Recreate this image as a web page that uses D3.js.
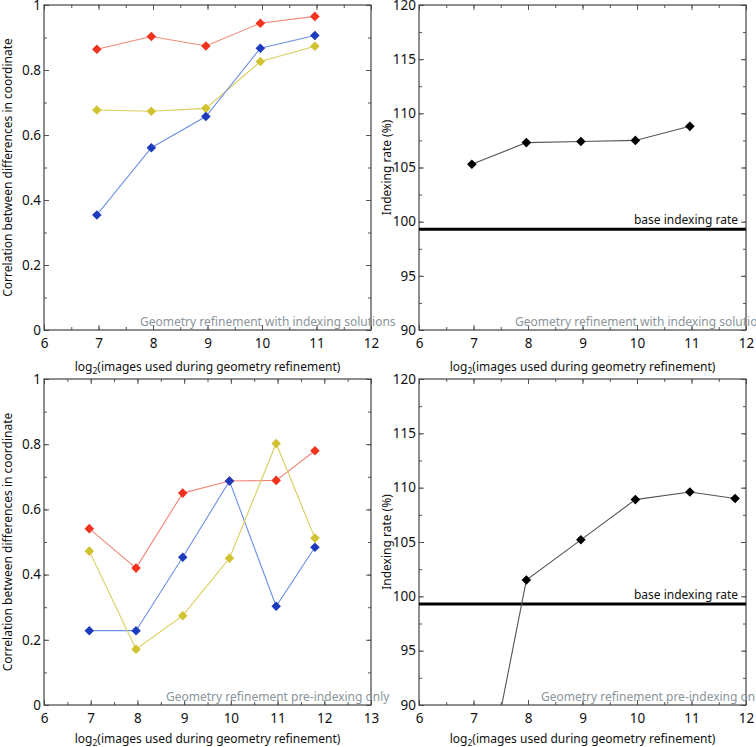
<!DOCTYPE html>
<html>
<head>
<meta charset="utf-8">
<script src="https://cdn.jsdelivr.net/npm/d3@7"></script>
<style>
  body { margin: 0; background: #fff; }
  svg { display: block; font-family: "Noto Sans", sans-serif; }
</style>
</head>
<body>
<svg width="756" height="747"></svg>
<script>
// x = log2(number of images)
const xTop = [6.97, 7.97, 8.97, 9.97, 10.97];
const xBottom = [6.97, 7.97, 8.97, 9.97, 10.97, 11.8];

// correlation, refinement with indexing solutions
const topRed = [0.864, 0.903, 0.874, 0.944, 0.965];
const topYellow = [0.677, 0.673, 0.682, 0.826, 0.873];
const topBlue = [0.354, 0.561, 0.657, 0.867, 0.906];
// indexing rate, refinement with indexing solutions
const topRate = [105.3, 107.3, 107.4, 107.5, 108.8];

// correlation, pre-indexing only
const botRed = [0.541, 0.420, 0.650, 0.687, 0.689, 0.780];
const botYellow = [0.472, 0.171, 0.274, 0.450, 0.802, 0.512];
const botBlue = [0.228, 0.228, 0.453, 0.687, 0.303, 0.484];
// indexing rate, pre-indexing only
const botRate = [76.0, 101.5, 105.2, 108.9, 109.6, 109.0];

const baseRate = 99.3;

const corrTicks = [0, 0.2, 0.4, 0.6, 0.8, 1];
const rateTicks = [90, 95, 100, 105, 110, 115, 120];

const xTitle = "images used during geometry refinement)";
const corrTitle = "Correlation between differences in coordinate";
const rateTitle = "Indexing rate (%)";
const noteTop = "Geometry refinement with indexing solutions";
const noteBottom = "Geometry refinement pre-indexing only";
const baseLabel = "base indexing rate";

const colors = {
  red: {line: "#f2877a", dot: "#f0321e"},
  yellow: {line: "#d9cd5c", dot: "#d1c232"},
  blue: {line: "#6d8fe4", dot: "#1c3cbd"},
  black: {line: "#555", dot: "#000"}
};

let svg = d3.select("svg");

function steps(a, b, step) {
  let n = Math.round((b - a) / step);
  return d3.range(n + 1).map(i => +(a + i * step).toFixed(4));
}

function createAxis(g, p) {
  let scX = d3.scaleLinear().domain(p.xDomain).range([0, p.width]);
  let scY = d3.scaleLinear().domain(p.yDomain).range([p.height, 0]);

  let xMajor = steps(p.xDomain[0], p.xDomain[1], 1);
  let xMinor = steps(p.xDomain[0], p.xDomain[1], 0.5);
  let yMinor = steps(p.yDomain[0], p.yDomain[1], p.yMinor);

  // minor ticks on all four sides
  const minor = [
    [d3.axisBottom(scX).tickValues(xMinor), `translate(0,${p.height})`],
    [d3.axisTop(scX).tickValues(xMinor), "translate(0,0)"],
    [d3.axisLeft(scY).tickValues(yMinor), "translate(0,0)"],
    [d3.axisRight(scY).tickValues(yMinor), `translate(${p.width},0)`]
  ];
  minor.forEach(([ax, tr]) => {
    g.append("g").attr("transform", tr)
      .call(ax.tickSize(-3).tickFormat(""))
      .call(s => s.select(".domain").remove());
  });

  // major ticks
  g.append("g").attr("transform", `translate(0,${p.height})`)
    .call(d3.axisBottom(scX).tickValues(xMajor).tickSize(-5).tickPadding(8).tickFormat(d3.format("d")))
    .call(s => s.select(".domain").remove());
  g.append("g")
    .call(d3.axisTop(scX).tickValues(xMajor).tickSize(-5).tickFormat(""))
    .call(s => s.select(".domain").remove());
  g.append("g")
    .call(d3.axisLeft(scY).tickValues(p.yTicks).tickSize(-5).tickPadding(3).tickFormat(d3.format("~g")))
    .call(s => s.select(".domain").remove());
  g.append("g").attr("transform", `translate(${p.width},0)`)
    .call(d3.axisRight(scY).tickValues(p.yTicks).tickSize(-5).tickFormat(""))
    .call(s => s.select(".domain").remove());

  g.selectAll(".tick line").attr("stroke", "#555");
  g.selectAll(".tick text").attr("font-size", 13.5).attr("fill", "#111")
    .attr("font-family", "Noto Sans, sans-serif");

  g.append("rect")
    .attr("width", p.width).attr("height", p.height)
    .attr("fill", "none").attr("stroke", "#444").attr("stroke-width", 1.2);

  // axis titles
  let xt = g.append("text")
    .attr("x", p.width / 2).attr("y", p.height + p.titleY)
    .attr("text-anchor", "middle").attr("font-size", 12).attr("fill", "#111");
  xt.append("tspan").text("log");
  xt.append("tspan").text("2").attr("font-size", 8.5).attr("dy", 3);
  xt.append("tspan").text("(" + xTitle).attr("dy", -3);

  g.append("text")
    .attr("transform", `translate(${p.titleX},${p.height / 2}) rotate(-90)`)
    .attr("text-anchor", "middle").attr("font-size", 12).attr("fill", "#111")
    .text(p.yTitle);

  return [scX, scY];
}

function createSeries(g, xs, ys, scX, scY, color) {
  let pts = xs.map((x, i) => [x, ys[i]]);
  g.append("path")
    .datum(pts)
    .attr("fill", "none")
    .attr("stroke", color.line)
    .attr("stroke-width", 1.1)
    .attr("d", d3.line().x(d => scX(d[0])).y(d => scY(d[1])));
  g.selectAll(null)
    .data(pts)
    .enter()
    .append("path")
    .attr("d", d3.symbol(d3.symbolSquare, 46)())
    .attr("transform", d => `translate(${scX(d[0])},${scY(d[1])}) rotate(45)`)
    .attr("fill", color.dot);
}

function drawPanel(p) {
  let g = svg.append("g").attr("transform", `translate(${p.left},${p.top})`);
  const [scX, scY] = createAxis(g, p);

  let clipId = "clip" + p.id;
  g.append("clipPath").attr("id", clipId)
    .append("rect").attr("width", p.width).attr("height", p.height);
  let plot = g.append("g").attr("clip-path", `url(#${clipId})`);

  if (p.base) {
    plot.append("line")
      .attr("x1", 0).attr("x2", p.width)
      .attr("y1", scY(baseRate)).attr("y2", scY(baseRate))
      .attr("stroke", "#000").attr("stroke-width", 3);
    g.append("text")
      .attr("x", p.width - 8).attr("y", scY(baseRate) - 5)
      .attr("text-anchor", "end").attr("font-size", 12).attr("fill", "#111")
      .text(baseLabel);
  }

  p.series.forEach(s => createSeries(plot, p.xs, s.values, scX, scY, s.color));

  // note overflows the frame like in the original figure
  g.append("text")
    .attr("x", p.noteX).attr("y", p.height - 4)
    .attr("font-size", 12).attr("fill", "#8a959c")
    .text(p.note);
}

const panels = [
  {id: 1, left: 44, top: 5, width: 327, height: 325, xDomain: [6, 12], yDomain: [0, 1],
   yTicks: corrTicks, yMinor: 0.1, titleX: -32, titleY: 41, yTitle: corrTitle, xs: xTop,
   note: noteTop, noteX: 96,
   series: [{values: topRed, color: colors.red}, {values: topYellow, color: colors.yellow},
            {values: topBlue, color: colors.blue}]},
  {id: 2, left: 419, top: 5, width: 327, height: 325, xDomain: [6, 12], yDomain: [90, 120],
   yTicks: rateTicks, yMinor: 2.5, titleX: -28, titleY: 41, yTitle: rateTitle, xs: xTop,
   note: noteTop, noteX: 96, base: true,
   series: [{values: topRate, color: colors.black}]},
  {id: 3, left: 44, top: 379, width: 327, height: 326, xDomain: [6, 13], yDomain: [0, 1],
   yTicks: corrTicks, yMinor: 0.1, titleX: -32, titleY: 38, yTitle: corrTitle, xs: xBottom,
   note: noteBottom, noteX: 122,
   series: [{values: botRed, color: colors.red}, {values: botBlue, color: colors.blue},
            {values: botYellow, color: colors.yellow}]},
  {id: 4, left: 419, top: 379, width: 327, height: 326, xDomain: [6, 12], yDomain: [90, 120],
   yTicks: rateTicks, yMinor: 2.5, titleX: -28, titleY: 38, yTitle: rateTitle, xs: xBottom,
   note: noteBottom, noteX: 122, base: true,
   series: [{values: botRate, color: colors.black}]}
];

panels.forEach(drawPanel);
</script>
</body>
</html>
